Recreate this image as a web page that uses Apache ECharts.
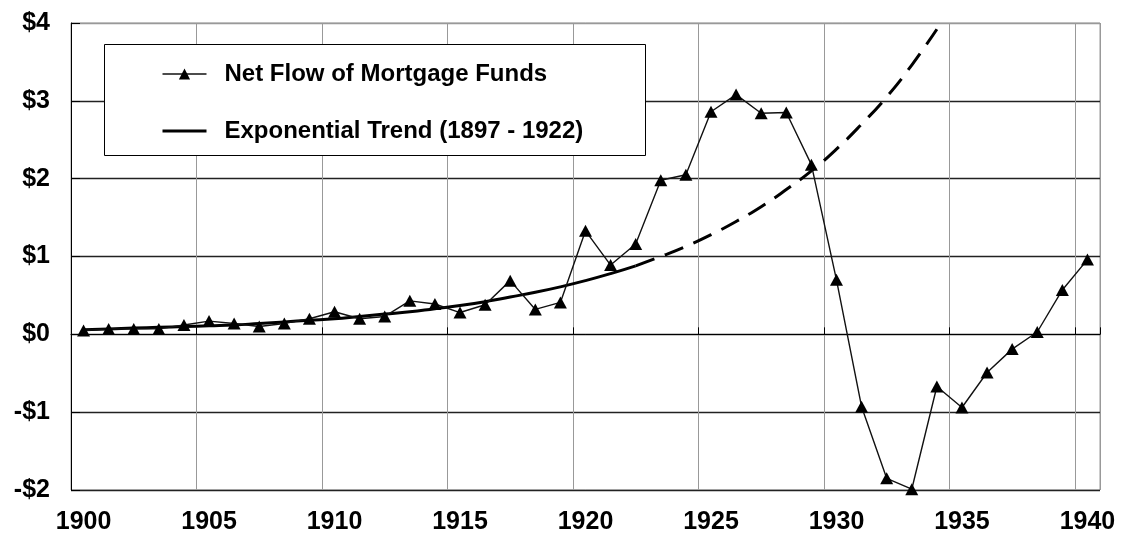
<!DOCTYPE html>
<html>
<head>
<meta charset="utf-8">
<script src="https://cdn.jsdelivr.net/npm/echarts@6/dist/echarts.min.js"></script>
<style>html,body{margin:0;padding:0;background:#fff;}#c{width:1124px;height:535px;}</style>
</head>
<body>
<div id="c"></div>
<script>
var years = [];
for (var y = 1900; y <= 1940; y++) years.push(String(y));

var netFlow = [0.05,0.07,0.07,0.07,0.12,0.17,0.14,0.10,0.14,0.20,
               0.29,0.20,0.23,0.43,0.39,0.28,0.38,0.69,0.32,0.41,
               1.33,0.89,1.16,1.98,2.05,2.86,3.08,2.84,2.85,2.18,
               0.70,-0.93,-1.85,-1.99,-0.67,-0.94,-0.49,-0.19,0.03,0.57,0.96];

// trend, 1900..1922 (solid)
var trendFitted = [0.06,0.07,0.08,0.09,0.10,0.11,0.12,0.14,0.16,0.18,
                   0.20,0.23,0.26,0.29,0.33,0.37,0.42,0.48,0.54,0.61,
                   0.69,0.78,0.88];
// trend extension 1922..1934 (dashed)
var trendExtended = [0.88,1.00,1.13,1.28,1.45,1.64,1.86,2.10,2.38,2.70,3.05,3.46,3.92];
var extStartYear = 1922;

var yTicks = {min: -2, max: 4, interval: 1};

function alignTo(arr, startYear) {
  return years.map(function (yr) {
    var i = Number(yr) - startYear;
    return (i >= 0 && i < arr.length) ? arr[i] : null;
  });
}

var solidData = alignTo(trendFitted, 1900);
var dashedData = alignTo(trendExtended, extStartYear);

var font = 'Liberation Sans, Arial, sans-serif';
var chart = echarts.init(document.getElementById('c'), null, {renderer: 'canvas'});
chart.setOption({
  animation: false,
  backgroundColor: '#fff',
  grid: {left: 71, right: 24, top: 23, bottom: 45, show: true, borderColor: '#999', borderWidth: 1},
  graphic: [{
    type: 'rect', left: 104, top: 44, z: 5,
    shape: {width: 541, height: 111},
    style: {fill: '#fff', stroke: '#000', lineWidth: 1}
  }],
  legend: {
    orient: 'vertical', left: 156, top: 57, z: 10,
    itemWidth: 44, itemHeight: 14, itemGap: 33,
    data: [
      {name: 'Net Flow of Mortgage Funds', lineStyle: {width: 1.4}},
      {name: 'Exponential Trend (1897 - 1922)', lineStyle: {width: 3}, itemStyle: {color: 'rgba(0,0,0,0)', borderWidth: 0}}
    ],
    textStyle: {fontFamily: font, fontWeight: 'bold', fontSize: 24, color: '#000', padding: [0, 0, 0, 13]}
  },
  xAxis: {
    type: 'category', data: years, boundaryGap: true,
    axisLine: {lineStyle: {color: '#000', width: 1}},
    axisTick: {show: true, inside: true, length: 7, interval: 4, lineStyle: {color: '#000'}},
    axisLabel: {interval: 4, margin: 20, fontFamily: font, fontWeight: 'bold', fontSize: 25, color: '#000'},
    splitLine: {show: true, interval: 4, lineStyle: {color: '#999', width: 1}}
  },
  yAxis: {
    type: 'value', min: yTicks.min, max: yTicks.max, interval: yTicks.interval,
    axisLine: {show: true, lineStyle: {color: '#000', width: 1}},
    axisTick: {show: true, inside: true, length: 9, lineStyle: {color: '#000'}},
    axisLabel: {margin: 21, fontFamily: font, fontWeight: 'bold', fontSize: 25, color: '#000',
      formatter: function (v) { return (v < 0 ? '-$' : '$') + Math.abs(v); }},
    splitLine: {show: true, lineStyle: {color: ['#222','#222','#222','#222','#222','#222','#999'], width: 1.3}}
  },
  series: [
    {
      name: 'Exponential Trend (1897 - 1922)', type: 'line', data: solidData,
      smooth: true, symbol: 'none', connectNulls: false,
      lineStyle: {color: '#000', width: 3}, itemStyle: {color: '#000'}, z: 3
    },
    {
      name: 'Exponential Trend extension', type: 'line', data: dashedData,
      smooth: true, symbol: 'none',
      lineStyle: {color: '#000', width: 3, type: [20, 11]}, itemStyle: {color: '#000'}, z: 3
    },
    {
      name: 'Net Flow of Mortgage Funds', type: 'line', data: netFlow,
      symbol: 'triangle', symbolSize: [13, 12],
      lineStyle: {color: '#111', width: 1.4}, itemStyle: {color: '#000'}, z: 4
    }
  ]
});
</script>
</body>
</html>
